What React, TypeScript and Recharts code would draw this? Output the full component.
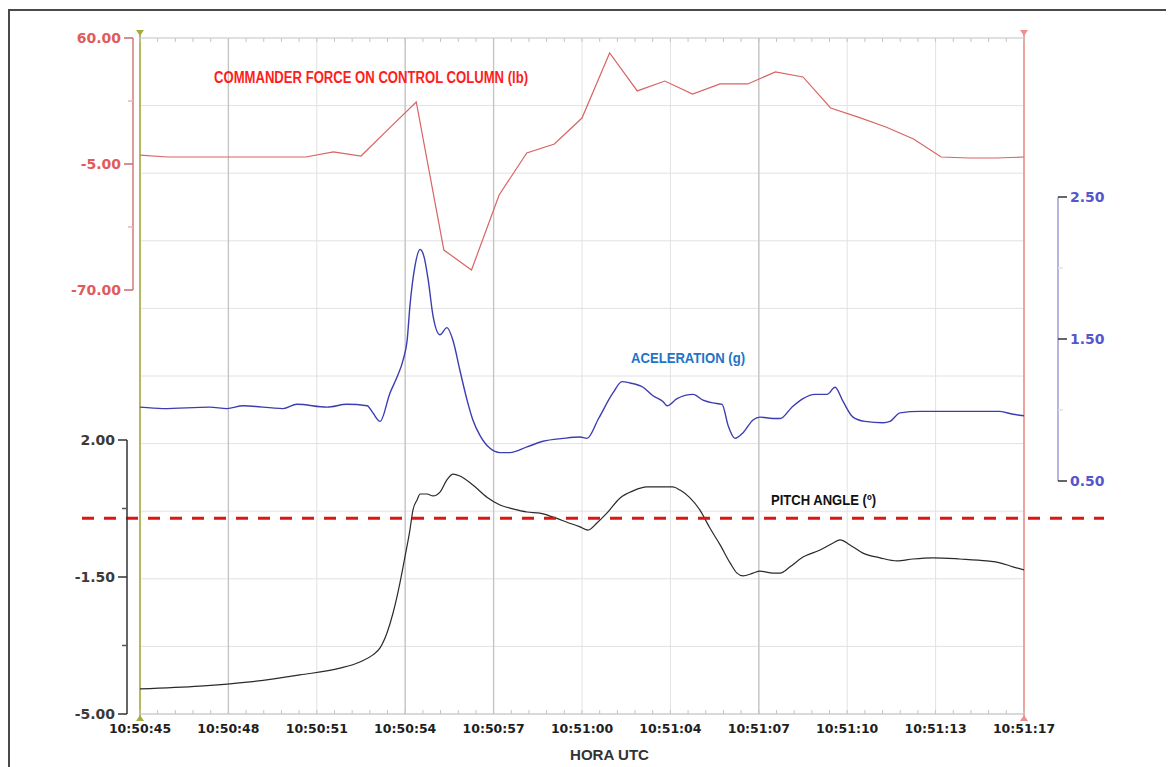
import React from 'react';
import { LineChart, Line, XAxis, YAxis, CartesianGrid, ReferenceLine } from 'recharts';

// seconds after 10:50:45
const FORCE_TIME = [0, 1, 2, 3, 4, 5, 6, 7, 8, 9, 10, 11, 12, 13, 14, 15, 16, 17, 18, 19, 20, 21, 22, 23, 24, 25, 26, 27, 28, 29, 30, 31, 32];
const FORCE_LB = [-0.4, -1.4, -1.4, -1.4, -1.4, -1.4, -1.4, 1.2, -0.9, 13.1, 27.0, -49.4, -59.7, -21.0, 0.7, 5.3, 18.7, 52.3, 32.7, 37.8, 31.1, 36.3, 36.3, 42.5, 39.9, 23.9, 19.2, 14.1, 7.9, -1.4, -1.9, -1.9, -1.4];

const ACCEL_TIME = [0, 0.83, 2.53, 3.15, 3.73, 5.18, 5.68, 6.77, 7.49, 8.22, 8.43, 8.69, 9.05, 9.3, 9.52, 9.67, 9.77, 9.95, 10.14, 10.28, 10.43, 10.61, 10.86, 11.11, 11.33, 11.58, 11.84, 12.05, 12.31, 12.67, 13.03, 13.39, 14.01, 14.59, 15.31, 15.93, 16.18, 16.6, 17.12, 17.45, 17.74, 18.21, 18.57, 18.93, 19.08, 19.44, 20.02, 20.38, 20.74, 21.07, 21.29, 21.54, 21.83, 22.19, 22.44, 22.91, 23.17, 23.6, 24.0, 24.43, 24.87, 25.16, 25.45, 25.81, 26.24, 26.9, 27.15, 27.51, 28.24, 29.68, 31.13, 31.6, 32];
const ACCEL_G = [1.02, 1.01, 1.02, 1.01, 1.03, 1.01, 1.04, 1.02, 1.04, 1.03, 0.98, 0.92, 1.12, 1.23, 1.35, 1.49, 1.73, 2.01, 2.13, 2.08, 1.92, 1.66, 1.53, 1.58, 1.49, 1.28, 1.07, 0.93, 0.82, 0.73, 0.7, 0.7, 0.74, 0.78, 0.8, 0.81, 0.8, 0.94, 1.12, 1.2, 1.19, 1.16, 1.1, 1.06, 1.03, 1.08, 1.11, 1.07, 1.05, 1.04, 0.89, 0.8, 0.84, 0.93, 0.95, 0.94, 0.94, 1.02, 1.08, 1.11, 1.11, 1.16, 1.06, 0.95, 0.92, 0.91, 0.92, 0.98, 0.99, 0.99, 0.99, 0.97, 0.96];

const PITCH_TIME = [0, 2.17, 3.98, 5.79, 7.24, 7.96, 8.43, 8.69, 8.94, 9.16, 9.41, 9.59, 9.77, 9.88, 10.03, 10.14, 10.39, 10.61, 10.86, 11.11, 11.33, 11.58, 12.05, 12.56, 13.03, 13.5, 14.01, 14.48, 14.95, 15.46, 15.93, 16.22, 16.54, 16.9, 17.38, 17.85, 18.35, 18.82, 19.29, 19.55, 19.91, 20.27, 20.63, 21.0, 21.36, 21.61, 21.83, 22.19, 22.44, 22.91, 23.17, 23.53, 24.0, 24.62, 25.09, 25.34, 25.7, 26.17, 26.79, 27.4, 27.98, 28.71, 29.68, 30.66, 31.13, 31.6, 32];
const PITCH_DEG = [-4.36, -4.29, -4.18, -4.0, -3.83, -3.67, -3.49, -3.31, -2.93, -2.42, -1.65, -0.99, -0.3, 0.21, 0.47, 0.62, 0.62, 0.57, 0.67, 0.98, 1.13, 1.08, 0.85, 0.54, 0.34, 0.24, 0.16, 0.13, 0.03, -0.1, -0.22, -0.3, -0.12, 0.13, 0.52, 0.7, 0.8, 0.8, 0.8, 0.72, 0.52, 0.21, -0.25, -0.68, -1.14, -1.4, -1.47, -1.4, -1.35, -1.4, -1.4, -1.24, -0.99, -0.81, -0.63, -0.55, -0.68, -0.89, -1.01, -1.09, -1.04, -1.01, -1.04, -1.09, -1.14, -1.24, -1.32];

const X_TICKS = [0, 3.2, 6.4, 9.6, 12.8, 16, 19.2, 22.4, 25.6, 28.8, 32];
const X_LABELS = ['10:50:45', '10:50:48', '10:50:51', '10:50:54', '10:50:57', '10:51:00', '10:51:04', '10:51:07', '10:51:10', '10:51:13', '10:51:17'];
const DARK_GRID = [3.2, 9.6, 12.8, 22.4];

const FORCE_TICKS = [60, 27.5, -5, -37.5, -70];
const FORCE_LABELED = [60, -5, -70];
const ACCEL_TICKS = [2.5, 2, 1.5, 1, 0.5];
const ACCEL_LABELED = [2.5, 1.5, 0.5];
const PITCH_TICKS = [2, 0.25, -1.5, -3.25, -5];
const PITCH_LABELED = [2, -1.5, -5];
const PITCH_REF = 0;

const forceData = FORCE_TIME.map((t, i) => ({ t, v: FORCE_LB[i] }));
const accelData = ACCEL_TIME.map((t, i) => ({ t, v: ACCEL_G[i] }));
const pitchData = PITCH_TIME.map((t, i) => ({ t, v: PITCH_DEG[i] }));

// layout
const W = 1166;
const H = 759;
const PLOT_TOP = 30;
const PLOT_BOTTOM = 706;
const PLOT_LEFT = 132;
const PLOT_RIGHT = 1016;
const PLOT_H = PLOT_BOTTOM - PLOT_TOP;

// each series lives in its own band of the plot, so stretch the domain
const bandDomain = (lo: number, hi: number, yHi: number, yLo: number): [number, number] => {
  const u = (hi - lo) / (yLo - yHi);
  return [lo - (PLOT_BOTTOM - yLo) * u, hi + (yHi - PLOT_TOP) * u];
};
const FORCE_DOMAIN = bandDomain(-70, 60, 30, 282);
const ACCEL_DOMAIN = bandDomain(0.5, 2.5, 189, 473);
const PITCH_DOMAIN = bandDomain(-5, 2, 432, 706);

const FONT = "'DejaVu Sans', Verdana, sans-serif";

const makeAxisTick = (cfg: any) => (props: any) => {
  const y = props.payload.coordinate;
  const v = props.payload.value;
  const major = cfg.labeled.includes(v);
  const dir = cfg.side === 'left' ? -1 : 1;
  const len = major ? 9 : 5;
  const span = (cfg.ticks[0] - cfg.ticks[cfg.ticks.length - 1]) * PLOT_H / (cfg.domain[1] - cfg.domain[0]);
  return (
    <g>
      {v === cfg.ticks[0] && (
        <line x1={cfg.x} x2={cfg.x} y1={y} y2={y + span} stroke={cfg.lineColor} strokeWidth={1.5} />
      )}
      <line x1={cfg.x} x2={cfg.x + dir * len} y1={y} y2={y} stroke={major ? cfg.tickColor : cfg.minorColor} strokeWidth={1.5} />
      {major && (
        <text x={cfg.x + dir * (len + 3)} y={y} dy={5} textAnchor={dir < 0 ? 'end' : 'start'}
          fill={cfg.textColor} fontSize={14} fontWeight="bold" fontFamily={FONT}>
          {v.toFixed(2)}
        </text>
      )}
    </g>
  );
};

const ForceTick = makeAxisTick({ side: 'left', x: 125, ticks: FORCE_TICKS, labeled: FORCE_LABELED, domain: FORCE_DOMAIN, lineColor: '#d27a7a', tickColor: '#d06868', minorColor: '#e4b4b4', textColor: '#e05c5c' });
const PitchTick = makeAxisTick({ side: 'left', x: 119, ticks: PITCH_TICKS, labeled: PITCH_LABELED, domain: PITCH_DOMAIN, lineColor: '#333', tickColor: '#333', minorColor: '#555', textColor: '#3a3a3a' });
const AccelTick = makeAxisTick({ side: 'right', x: 1050, ticks: ACCEL_TICKS, labeled: ACCEL_LABELED, domain: ACCEL_DOMAIN, lineColor: '#9c9cd6', tickColor: '#333', minorColor: '#e2e2ee', textColor: '#5656cc' });

const MinorXTick = (props: any) => {
  const x = props.payload.coordinate;
  return (
    <g stroke="#c4c4c4" strokeWidth={1}>
      <line x1={x} x2={x} y1={PLOT_TOP} y2={PLOT_TOP + 4} />
      <line x1={x} x2={x} y1={PLOT_BOTTOM} y2={PLOT_BOTTOM - 4} />
    </g>
  );
};

const MinorYTick = (props: any) => {
  const y = props.payload.coordinate;
  return (
    <g stroke="#c4c4c4" strokeWidth={1}>
      <line x1={PLOT_LEFT} x2={PLOT_LEFT + 4} y1={y} y2={y} />
      <line x1={PLOT_RIGHT} x2={PLOT_RIGHT - 4} y1={y} y2={y} />
    </g>
  );
};

const makeBorder = (color: string) => (p: any) => {
  const x = p.x1;
  const top = Math.min(p.y1, p.y2);
  const bottom = Math.max(p.y1, p.y2);
  return (
    <g>
      <line x1={x} x2={x} y1={top - 8} y2={bottom + 6} stroke={color} strokeWidth={1.6} />
      <polygon points={`${x - 4},${top - 8} ${x + 4},${top - 8} ${x},${top - 2}`} fill={color} />
      <polygon points={`${x - 4},${bottom + 7} ${x + 4},${bottom + 7} ${x},${bottom + 1}`} fill={color} />
    </g>
  );
};
const GreenBorder = makeBorder('#a6ac3e');
const PinkBorder = makeBorder('#ef8e8e');

const DashedRef = (p: any) => (
  <line x1={Math.min(p.x1, p.x2) - 58} x2={Math.max(p.x1, p.x2) + 80} y1={p.y1} y2={p.y2}
    stroke="#dd1515" strokeWidth={3} strokeDasharray="12 10" />
);

const gridRows = ({ offset }: any) =>
  Array.from({ length: 11 }, (_, i) => offset.top + (i * offset.height) / 10);

export default function App() {
  return (
    <div style={{ position: 'relative', width: W, height: H, overflow: 'hidden', background: '#fff' }}>
      <div style={{ position: 'absolute', left: 0, top: 1, width: 1300, height: 900, border: '2px solid #4a4a4a', boxSizing: 'border-box' }} />
      <div style={{ position: 'absolute', left: 0, top: 0 }}>
        <LineChart width={W} height={H} margin={{ top: PLOT_TOP, right: 50, bottom: 0, left: 0 }}>
          <CartesianGrid yAxisId="force" stroke="#e2e2e2" horizontalCoordinatesGenerator={gridRows} />
          <XAxis type="number" dataKey="t" domain={[0, 32]} ticks={X_TICKS} interval={0} height={53}
            allowDataOverflow tickLine={false} tickMargin={4} axisLine={{ stroke: '#c2c2c2' }}
            tickFormatter={(_v: number, i: number) => X_LABELS[i]}
            tick={{ fill: '#1e1e1e', fontSize: 12.5, fontWeight: 'bold', fontFamily: FONT }} />
          <XAxis xAxisId="minor" orientation="top" mirror type="number" dataKey="t" domain={[0, 32]}
            ticks={Array.from({ length: 51 }, (_, i) => i * 0.64)} interval={0}
            allowDataOverflow tickLine={false} axisLine={{ stroke: '#cfcfcf' }} tick={MinorXTick} />
          <YAxis yAxisId="force" orientation="left" width={70} type="number" domain={FORCE_DOMAIN}
            allowDataOverflow ticks={FORCE_TICKS} interval={0} axisLine={false} tickLine={false} tick={ForceTick} />
          <YAxis yAxisId="pitch" orientation="left" width={62} type="number" domain={PITCH_DOMAIN}
            allowDataOverflow ticks={PITCH_TICKS} interval={0} axisLine={false} tickLine={false} tick={PitchTick} />
          <YAxis yAxisId="accel" orientation="right" width={100} type="number" domain={ACCEL_DOMAIN}
            allowDataOverflow ticks={ACCEL_TICKS} interval={0} axisLine={false} tickLine={false} tick={AccelTick} />
          <YAxis yAxisId="frame" orientation="left" mirror type="number" domain={[0, 50]}
            ticks={Array.from({ length: 51 }, (_, i) => i)} interval={0}
            axisLine={false} tickLine={false} tick={MinorYTick} />

          {DARK_GRID.map((x) => (
            <ReferenceLine key={x} x={x} yAxisId="force" stroke="#c4c4c4" strokeWidth={1.3} />
          ))}
          <ReferenceLine x={0} yAxisId="force" shape={GreenBorder} />
          <ReferenceLine x={32} yAxisId="force" shape={PinkBorder} />

          <Line yAxisId="force" data={forceData} dataKey="v" type="linear" stroke="#d86464" strokeWidth={1.2}
            dot={false} isAnimationActive={false} />
          <Line yAxisId="accel" data={accelData} dataKey="v" type="monotone" stroke="#3d3db2" strokeWidth={1.4}
            dot={false} isAnimationActive={false} />
          <Line yAxisId="pitch" data={pitchData} dataKey="v" type="monotone" stroke="#2a2a2a" strokeWidth={1.2}
            dot={false} isAnimationActive={false} />

          <ReferenceLine y={PITCH_REF} yAxisId="pitch" shape={DashedRef} />
        </LineChart>
      </div>
      <svg width={W} height={H} style={{ position: 'absolute', left: 0, top: 0, pointerEvents: 'none' }}>
        <text x={206} y={75} textLength={314} lengthAdjust="spacingAndGlyphs" fill="#ff1c1c" fontSize={16}
          fontWeight="bold" fontFamily="'Liberation Sans Narrow', 'Liberation Sans', Arial, sans-serif">
          COMMANDER FORCE ON CONTROL COLUMN (lb)
        </text>
        <text x={623} y={355} textLength={114} lengthAdjust="spacingAndGlyphs" fill="#1f74c8" fontSize={15}
          fontWeight="bold" fontFamily="'Liberation Sans Narrow', 'Liberation Sans', Arial, sans-serif">
          ACELERATION (g)
        </text>
        <text x={763} y={497} textLength={105} lengthAdjust="spacingAndGlyphs" fill="#111" fontSize={15}
          fontWeight="bold" fontFamily="'Liberation Sans Narrow', 'Liberation Sans', Arial, sans-serif">
          PITCH ANGLE (º)
        </text>
        <text x={562} y={752} textLength={79} lengthAdjust="spacingAndGlyphs" fill="#333" fontSize={14}
          fontWeight="bold" fontFamily="'Liberation Sans', Arial, sans-serif">
          HORA UTC
        </text>
      </svg>
    </div>
  );
}
